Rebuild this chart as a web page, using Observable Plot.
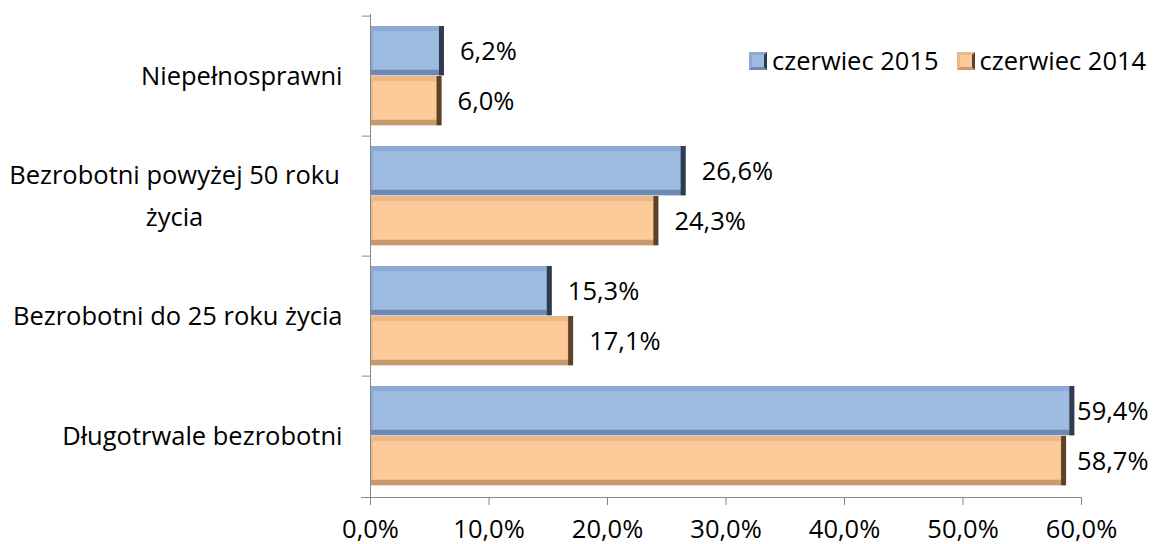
<!DOCTYPE html>
<html>
<head>
<meta charset="utf-8">
<script src="https://cdn.jsdelivr.net/npm/d3@7"></script>
<script src="https://cdn.jsdelivr.net/npm/@observablehq/plot@0.6"></script>
<style>
  html, body { margin: 0; padding: 0; background: #fff; }
  #wrap { position: relative; width: 1155px; height: 544px; overflow: hidden; font-family: "Open Sans", Lato, sans-serif; }
  #legend { position: absolute; left: 749px; top: 43px; font-size: 25.5px; line-height: 35px; color: #000; display: flex; align-items: center; white-space: nowrap; }
  .item { display: flex; align-items: center; margin-right: 18px; }
  .sw { display: inline-block; width: 12px; height: 12px; margin-right: 5px; border: 3px solid; }
</style>
</head>
<body>
<div id="wrap"><div id="legend"></div></div>
<script>
const categories = ["Niepełnosprawni", "Bezrobotni powyżej 50 roku życia", "Bezrobotni do 25 roku życia", "Długotrwale bezrobotni"];
const series = ["czerwiec 2015", "czerwiec 2014"];
const v2015 = [6.2, 26.6, 15.3, 59.4];
const v2014 = [6.0, 24.3, 17.1, 58.7];
const xTicks = [0, 10, 20, 30, 40, 50, 60];

const colors = {
  "czerwiec 2015": {main: "#9ebbe2", top: "#8eaad4", bottom: "#6f89b1", edge: "#2f3b4f"},
  "czerwiec 2014": {main: "#fccb99", top: "#ebb887", bottom: "#c99a6e", edge: "#5e4129"}
};

const rows = [];
categories.forEach((c, i) => {
  rows.push({category: c, series: series[0], value: v2015[i]});
  rows.push({category: c, series: series[1], value: v2014[i]});
});

const fmt = v => v.toFixed(1).replace(".", ",") + "%";
const gray = "#868686";
const font = "'Open Sans', Lato, sans-serif";
const fs = 25.5;

// band geometry (style constants)
const bandH = (497 - 14) / 4;
const slot = {
  "czerwiec 2015": {top: 10, bottom: bandH - 60},
  "czerwiec 2014": {top: 60, bottom: bandH - 110}
};

const marks = [];
for (const s of series) {
  const d = rows.filter(r => r.series === s);
  const c = colors[s];
  const g = slot[s];
  marks.push(Plot.barX(d, {x: "value", y: "category", fill: c.top, insetTop: g.top, insetBottom: g.bottom}));
  marks.push(Plot.barX(d, {x: "value", y: "category", fill: c.bottom, insetTop: bandH - g.bottom - 6, insetBottom: g.bottom}));
  marks.push(Plot.barX(d, {x: "value", y: "category", fill: c.main, insetTop: g.top + 5, insetBottom: g.bottom + 6, insetLeft: 3, insetRight: 5}));
  marks.push(Plot.tickX(d, {x: "value", y: "category", stroke: c.edge, strokeWidth: 5, dx: -2.5, insetTop: g.top, insetBottom: g.bottom}));
  const dy = (g.top + 25) - bandH / 2 + 1;
  marks.push(Plot.text(d.filter(r => r.value < 50), {x: "value", y: "category", text: r => fmt(r.value), textAnchor: "start", dx: 16, dy, fontSize: fs, fill: "#000"}));
  marks.push(Plot.text(d.filter(r => r.value >= 50), {y: "category", text: r => fmt(r.value), frameAnchor: "right", textAnchor: "end", dx: 67, dy, fontSize: fs, fill: "#000"}));
}

const single = categories.filter(c => c !== "Bezrobotni powyżej 50 roku życia");
marks.push(Plot.text(single, {y: d => d, text: d => d, frameAnchor: "left", textAnchor: "end", dx: -28, fontSize: fs, fill: "#000"}));
marks.push(Plot.text(["Bezrobotni powyżej 50 roku życia"], {y: d => d, text: () => "Bezrobotni powyżej 50 roku\nżycia", frameAnchor: "left", textAnchor: "middle", dx: -196, dy: -5, lineHeight: 1.65, fontSize: fs, fill: "#000"}));

marks.push(Plot.frame({anchor: "left", stroke: gray}));
marks.push(Plot.frame({anchor: "bottom", stroke: gray, insetLeft: -9}));
marks.push(Plot.axisY({tickSize: 8, tickFormat: () => "", label: null, stroke: gray, dy: -bandH / 2}));
marks.push(Plot.axisX({ticks: xTicks, tickFormat: fmt, tickSize: 8, tickPadding: 14, label: null, stroke: gray, fill: "#000", fontSize: fs}));

const chart = Plot.plot({
  width: 1155,
  height: 544,
  marginLeft: 370,
  marginRight: 74,
  marginTop: 14,
  marginBottom: 47,
  style: {fontFamily: font, background: "#fff", overflow: "visible"},
  x: {domain: [0, 60], axis: null},
  y: {domain: categories, padding: 0, axis: null},
  marks
});
document.getElementById("wrap").prepend(chart);

const legend = document.getElementById("legend");
for (const s of series) {
  const it = document.createElement("span");
  it.className = "item";
  const sw = document.createElement("span");
  sw.className = "sw";
  sw.style.background = colors[s].main;
  sw.style.borderColor = `${colors[s].top} ${colors[s].edge} ${colors[s].bottom} ${colors[s].top}`;
  it.appendChild(sw);
  it.appendChild(document.createTextNode(s));
  legend.appendChild(it);
}
</script>
</body>
</html>
